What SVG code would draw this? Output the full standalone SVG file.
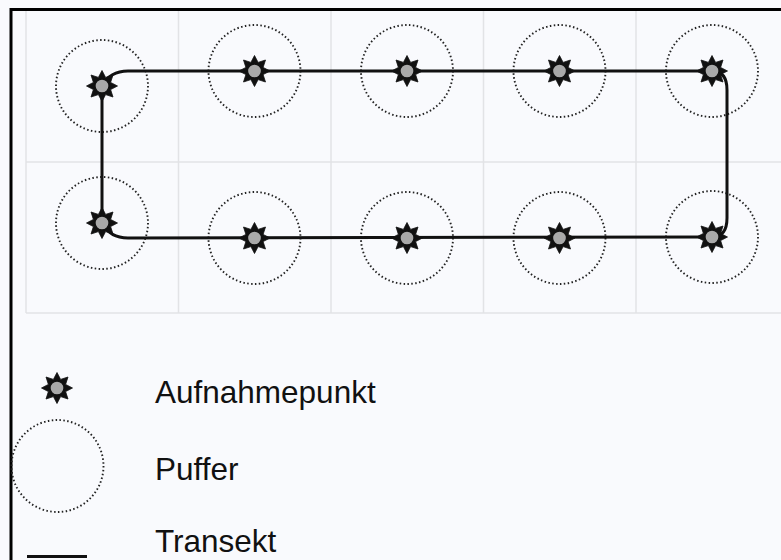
<svg xmlns="http://www.w3.org/2000/svg" xmlns:xlink="http://www.w3.org/1999/xlink" width="781" height="560" viewBox="0 0 781 560">
<style>
.grid{stroke:#e2e3e6;stroke-width:1.5;fill:none}
.buf{fill:none;stroke:#222;stroke-width:1.9;stroke-dasharray:1.5 2.4}
.tr{fill:none;stroke:#111;stroke-width:3}
.lbl{font-family:"Liberation Sans",Arial,sans-serif;font-size:31.5px;fill:#111}
</style>
<defs>
<g id="star">
<polygon points="0,-15.5 3.6,-8.6 11,-11 8.6,-3.6 15.5,0 8.6,3.6 11,11 3.6,8.6 0,15.5 -3.6,8.6 -11,11 -8.6,3.6 -15.5,0 -8.6,-3.6 -11,-11 -3.6,-8.6" fill="#111" stroke="#111" stroke-width="0.8"/>
<circle r="7" fill="#a9a9a9" stroke="#111" stroke-width="1.3"/>
</g>
</defs>
<rect x="0" y="0" width="781" height="560" fill="#f9fafd"/>
<g id="grid">
<path class="grid" d="M26,10 V313 M178.5,10 V313 M331,10 V313 M483.5,10 V313 M636,10 V313 M26,162 H781 M26,313 H781"/>
</g>
<g id="frame">
<path d="M11,560 V9.5 H781" fill="none" stroke="#000" stroke-width="3"/>
</g>
<g id="buffers">
<circle class="buf" cx="102" cy="86" r="46"/>
<circle class="buf" cx="254.5" cy="71" r="46"/>
<circle class="buf" cx="407" cy="71" r="46"/>
<circle class="buf" cx="559.5" cy="71" r="46"/>
<circle class="buf" cx="712" cy="71" r="46"/>
<circle class="buf" cx="102" cy="223" r="46"/>
<circle class="buf" cx="254.5" cy="238" r="46"/>
<circle class="buf" cx="407" cy="238" r="46"/>
<circle class="buf" cx="559.5" cy="238" r="46"/>
<circle class="buf" cx="712" cy="237" r="46"/>
</g>
<g id="connectors">
<path class="tr" d="M102,86 Q110,71 128,71 L712,71 Q727,71 727,90 L727,218 Q727,237 712,237 L128,238 Q110,238 102,223 Z"/>
</g>
<g id="points">
<use xlink:href="#star" x="102" y="86"/>
<use xlink:href="#star" x="254.5" y="71"/>
<use xlink:href="#star" x="407" y="71"/>
<use xlink:href="#star" x="559.5" y="71"/>
<use xlink:href="#star" x="712" y="71"/>
<use xlink:href="#star" x="102" y="223"/>
<use xlink:href="#star" x="254.5" y="238"/>
<use xlink:href="#star" x="407" y="238"/>
<use xlink:href="#star" x="559.5" y="238"/>
<use xlink:href="#star" x="712" y="237"/>
</g>
<g id="legend-point">
<use xlink:href="#star" x="57" y="388"/>
<text class="lbl" x="155" y="403">Aufnahmepunkt</text>
</g>
<g id="legend-buffer">
<circle class="buf" cx="57.5" cy="466" r="46"/>
<text class="lbl" x="155" y="480">Puffer</text>
</g>
<g id="legend-transect">
<line x1="27" y1="556.5" x2="87" y2="556.5" stroke="#111" stroke-width="3"/>
<text class="lbl" x="155" y="552">Transekt</text>
</g>
</svg>
